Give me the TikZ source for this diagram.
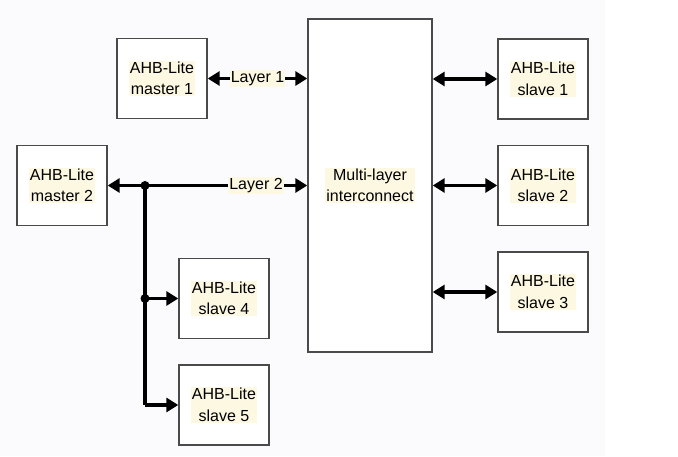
\documentclass[tikz,border=0pt]{standalone}
\usepackage{fontspec}
\setmainfont{Liberation Sans}
\usetikzlibrary{arrows.meta}
\definecolor{bgc}{HTML}{FBFBFD}
\definecolor{hl}{HTML}{FDF8E2}
\definecolor{bord}{HTML}{4A4A4A}
\begin{document}
\begin{tikzpicture}[x=1pt,y=-1pt,
  box/.style={draw=bord,line width=1.4pt,fill=white,minimum width=90pt,minimum height=80pt,inner sep=0pt},
  txt/.style={fill=hl,inner sep=1pt,font=\fontsize{16}{21.5}\selectfont,align=center,text=black},
  conn/.style={line width=3.2pt,-{Triangle[length=12pt,width=14pt]}},
  bconn/.style={line width=3.2pt,{Triangle[length=12pt,width=14pt]}-{Triangle[length=12pt,width=14pt]}},
  dot/.style={circle,fill=black,inner sep=0pt,minimum size=9pt}]
\useasboundingbox (0,0) rectangle (678,457);
\fill[white] (0,0) rectangle (678,457);
\fill[bgc] (0,0) rectangle (605,456);
% boxes
\node[box] (m1) at (162,78.5) {};
\node[txt] at (m1) {AHB-Lite\\master 1};
\node[box] (m2) at (62,185.5) {};
\node[txt] at (m2) {AHB-Lite\\master 2};
\node[box,minimum width=124pt,minimum height=333pt] (ic) at (370,185.5) {};
\node[txt] at (ic) {Multi-layer\\interconnect};
\node[box] (s1) at (543,79) {};
\node[txt] at (s1) {AHB-Lite\\slave 1};
\node[box] (s2) at (543,185.5) {};
\node[txt] at (s2) {AHB-Lite\\slave 2};
\node[box] (s3) at (543,292) {};
\node[txt] at (s3) {AHB-Lite\\slave 3};
\node[box] (s4) at (224,298.5) {};
\node[txt] at (s4) {AHB-Lite\\slave 4};
\node[box] (s5) at (224,405) {};
\node[txt] at (s5) {AHB-Lite\\slave 5};
% connectors
\draw[bconn] (m1.east) -- (ic.west |- m1.east)
  node[midway,txt,font=\fontsize{16}{18}\selectfont] (l1) {Layer 1};
\coordinate (j1) at (145,185.5);
\coordinate (j2) at (145,298.5);
\draw[bconn] (m2.east) -- (ic.west |- m2.east);
\node[txt,font=\fontsize{16}{18}\selectfont] (l2) at (256,185.5) {Layer 2};
\draw[line width=3.2pt] (j1) -- (j1 |- s5.west);
\draw[conn] (j1 |- s5.west) -- (s5.west);
\draw[conn] (j2) -- (s4.west);
\node[dot] at (j1) {};
\node[dot] at (j2) {};
\draw[bconn] (ic.east |- s1.west) -- (s1.west);
\draw[bconn] (ic.east |- s2.west) -- (s2.west);
\draw[bconn] (ic.east |- s3.west) -- (s3.west);
\end{tikzpicture}
\end{document}
